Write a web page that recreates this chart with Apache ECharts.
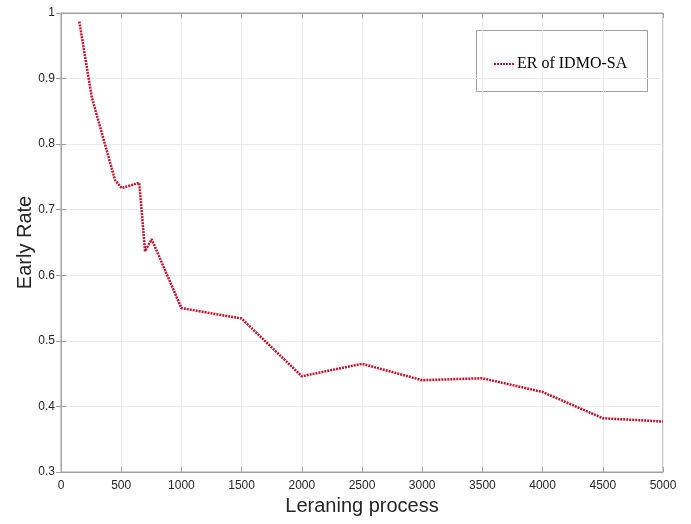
<!DOCTYPE html>
<html>
<head>
<meta charset="utf-8">
<script src="https://cdn.jsdelivr.net/npm/echarts@6/dist/echarts.min.js"></script>
<style>
html,body{margin:0;padding:0;background:#fff;}
#chart{width:691px;height:524px;}
</style>
</head>
<body>
<div id="chart"></div>
<script>
var seriesName = 'ER of IDMO-SA';
var learningSteps = [152, 255, 449, 504, 650, 698, 753, 1000, 1500, 2000, 2500, 3000, 3500, 4000, 4500, 5000];
var earlyRate = [0.987, 0.872, 0.745, 0.733, 0.741, 0.637, 0.655, 0.550, 0.534, 0.446, 0.465, 0.440, 0.443, 0.422, 0.382, 0.377];
var xTitle = 'Leraning process';
var yTitle = 'Early Rate';

var chart = echarts.init(document.getElementById('chart'), null, {renderer: 'canvas'});
var sans = 'Liberation Sans, Arial, sans-serif';
var boxColor = '#a0a0a0';
var gridColor = '#ebebeb';
var pts = learningSteps.map(function (x, i) { return [x, earlyRate[i]]; });

var option = {
  backgroundColor: '#ffffff',
  animation: false,
  grid: {left: 61, right: 28, top: 13, bottom: 52, show: true, borderColor: boxColor, borderWidth: 1, backgroundColor: 'transparent'},
  xAxis: [{
    type: 'value', min: 0, max: 5000, interval: 500,
    name: xTitle, nameLocation: 'middle', nameGap: 24, nameMoveOverlap: false,
    nameTextStyle: {fontFamily: sans, fontSize: 20, color: '#262626', verticalAlign: 'top'},
    axisLine: {show: true, lineStyle: {color: boxColor}},
    axisTick: {show: true, inside: true, length: 5, lineStyle: {color: boxColor}},
    axisLabel: {fontFamily: sans, fontSize: 12, color: '#262626', margin: 8,
      formatter: function (v) { return String(v); }},
    splitLine: {show: true, lineStyle: {color: gridColor, width: 1}}
  }, {
    type: 'value', min: 0, max: 5000, interval: 500, position: 'top',
    axisLine: {show: true, lineStyle: {color: boxColor}},
    axisTick: {show: true, inside: true, length: 5, lineStyle: {color: boxColor}},
    axisLabel: {show: false}, splitLine: {show: false}
  }],
  yAxis: [{
    type: 'value', min: 0.3, max: 1, interval: 0.1,
    name: yTitle, nameLocation: 'middle', nameGap: 26, nameMoveOverlap: false,
    nameTextStyle: {fontFamily: sans, fontSize: 20, color: '#262626'},
    axisLine: {show: true, lineStyle: {color: boxColor}},
    axisTick: {show: true, inside: true, length: 5, lineStyle: {color: boxColor}},
    axisLabel: {fontFamily: sans, fontSize: 12, color: '#262626', margin: 6,
      formatter: function (v) { return +v.toFixed(1) + ''; }},
    splitLine: {show: true, lineStyle: {color: gridColor, width: 1}}
  }, {
    type: 'value', min: 0.3, max: 1, interval: 0.1, position: 'right',
    axisLine: {show: true, lineStyle: {color: boxColor}},
    axisTick: {show: true, inside: true, length: 5, lineStyle: {color: boxColor}},
    axisLabel: {show: false}, splitLine: {show: false}
  }],
  legend: {
    show: true, orient: 'horizontal',
    left: 488, top: 51, z: 10,
    itemWidth: 21, itemHeight: 10, itemGap: 4,
    itemStyle: {opacity: 0},
    textStyle: {fontFamily: 'Liberation Serif, Times New Roman, serif', fontSize: 16, color: '#000', padding: [0, 0, 0, -3]},
    data: [seriesName]
  },
  graphic: [{
    type: 'rect', left: 474, top: 28, z: -10, silent: true,
    shape: {width: 171, height: 61},
    style: {fill: 'none', stroke: '#a0a0a0', lineWidth: 1}
  }],
  series: [{
    name: seriesName, type: 'line', data: pts, xAxisIndex: 0, yAxisIndex: 0,
    showSymbol: false, symbol: 'none',
    lineStyle: {color: '#c4122f', width: 2.5, type: [2, 1]},
    itemStyle: {color: '#c4122f'}, z: 5
  }]
};
chart.setOption(option);
</script>
</body>
</html>
